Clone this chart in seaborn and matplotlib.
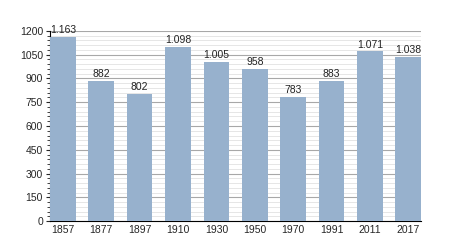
import matplotlib
matplotlib.use("Agg")
import matplotlib.pyplot as plt
from matplotlib.ticker import MultipleLocator
import seaborn as sns
import pandas as pd

years = ["1857", "1877", "1897", "1910", "1930", "1950", "1970", "1991", "2011", "2017"]
population = [1163, 882, 802, 1098, 1005, 958, 783, 883, 1071, 1038]
labels = ["1.163", "882", "802", "1.098", "1.005", "958", "783", "883", "1.071", "1.038"]

sns.set_style("white")
plt.rcParams['font.family'] = ['Liberation Sans', 'DejaVu Sans']

df = pd.DataFrame({"year": years, "pop": population})

fig = plt.figure(figsize=(4.5, 2.5), dpi=100)
ax = fig.add_axes([0.111, 0.116, 0.825, 0.76])

ax.yaxis.set_major_locator(MultipleLocator(150))
ax.yaxis.set_minor_locator(MultipleLocator(30))
ax.grid(which="major", axis="y", color="#a8a8a8", linewidth=0.8)
ax.grid(which="minor", axis="y", color="#e2e2e2", linewidth=0.6)
ax.set_axisbelow(True)

sns.barplot(data=df, x="year", y="pop", color="#97b1cd", saturation=1,
            width=0.67, ax=ax, zorder=3, linewidth=0, edgecolor="none")

for i, (v, t) in enumerate(zip(population, labels)):
    ax.text(i, v + 12, t, ha="center", va="bottom", fontsize=7.5, color="#222222")

ax.set_xlim(-0.335, 9.335)
ax.set_ylim(0, 1200)
ax.set_xlabel("")
ax.set_ylabel("")
for s in ["top", "right"]:
    ax.spines[s].set_visible(False)
ax.spines["left"].set_color("black")
ax.spines["bottom"].set_color("black")
ax.spines["left"].set_linewidth(0.8)
ax.spines["bottom"].set_linewidth(0.8)
ax.tick_params(axis="y", which="major", direction="out", length=3, width=0.8,
               labelsize=7.5, left=True, pad=2)
ax.tick_params(axis="y", which="minor", direction="out", length=2, width=0.6, left=True)
ax.tick_params(axis="x", length=0, labelsize=7.5, pad=3)

fig.savefig("out.png", dpi=100)
